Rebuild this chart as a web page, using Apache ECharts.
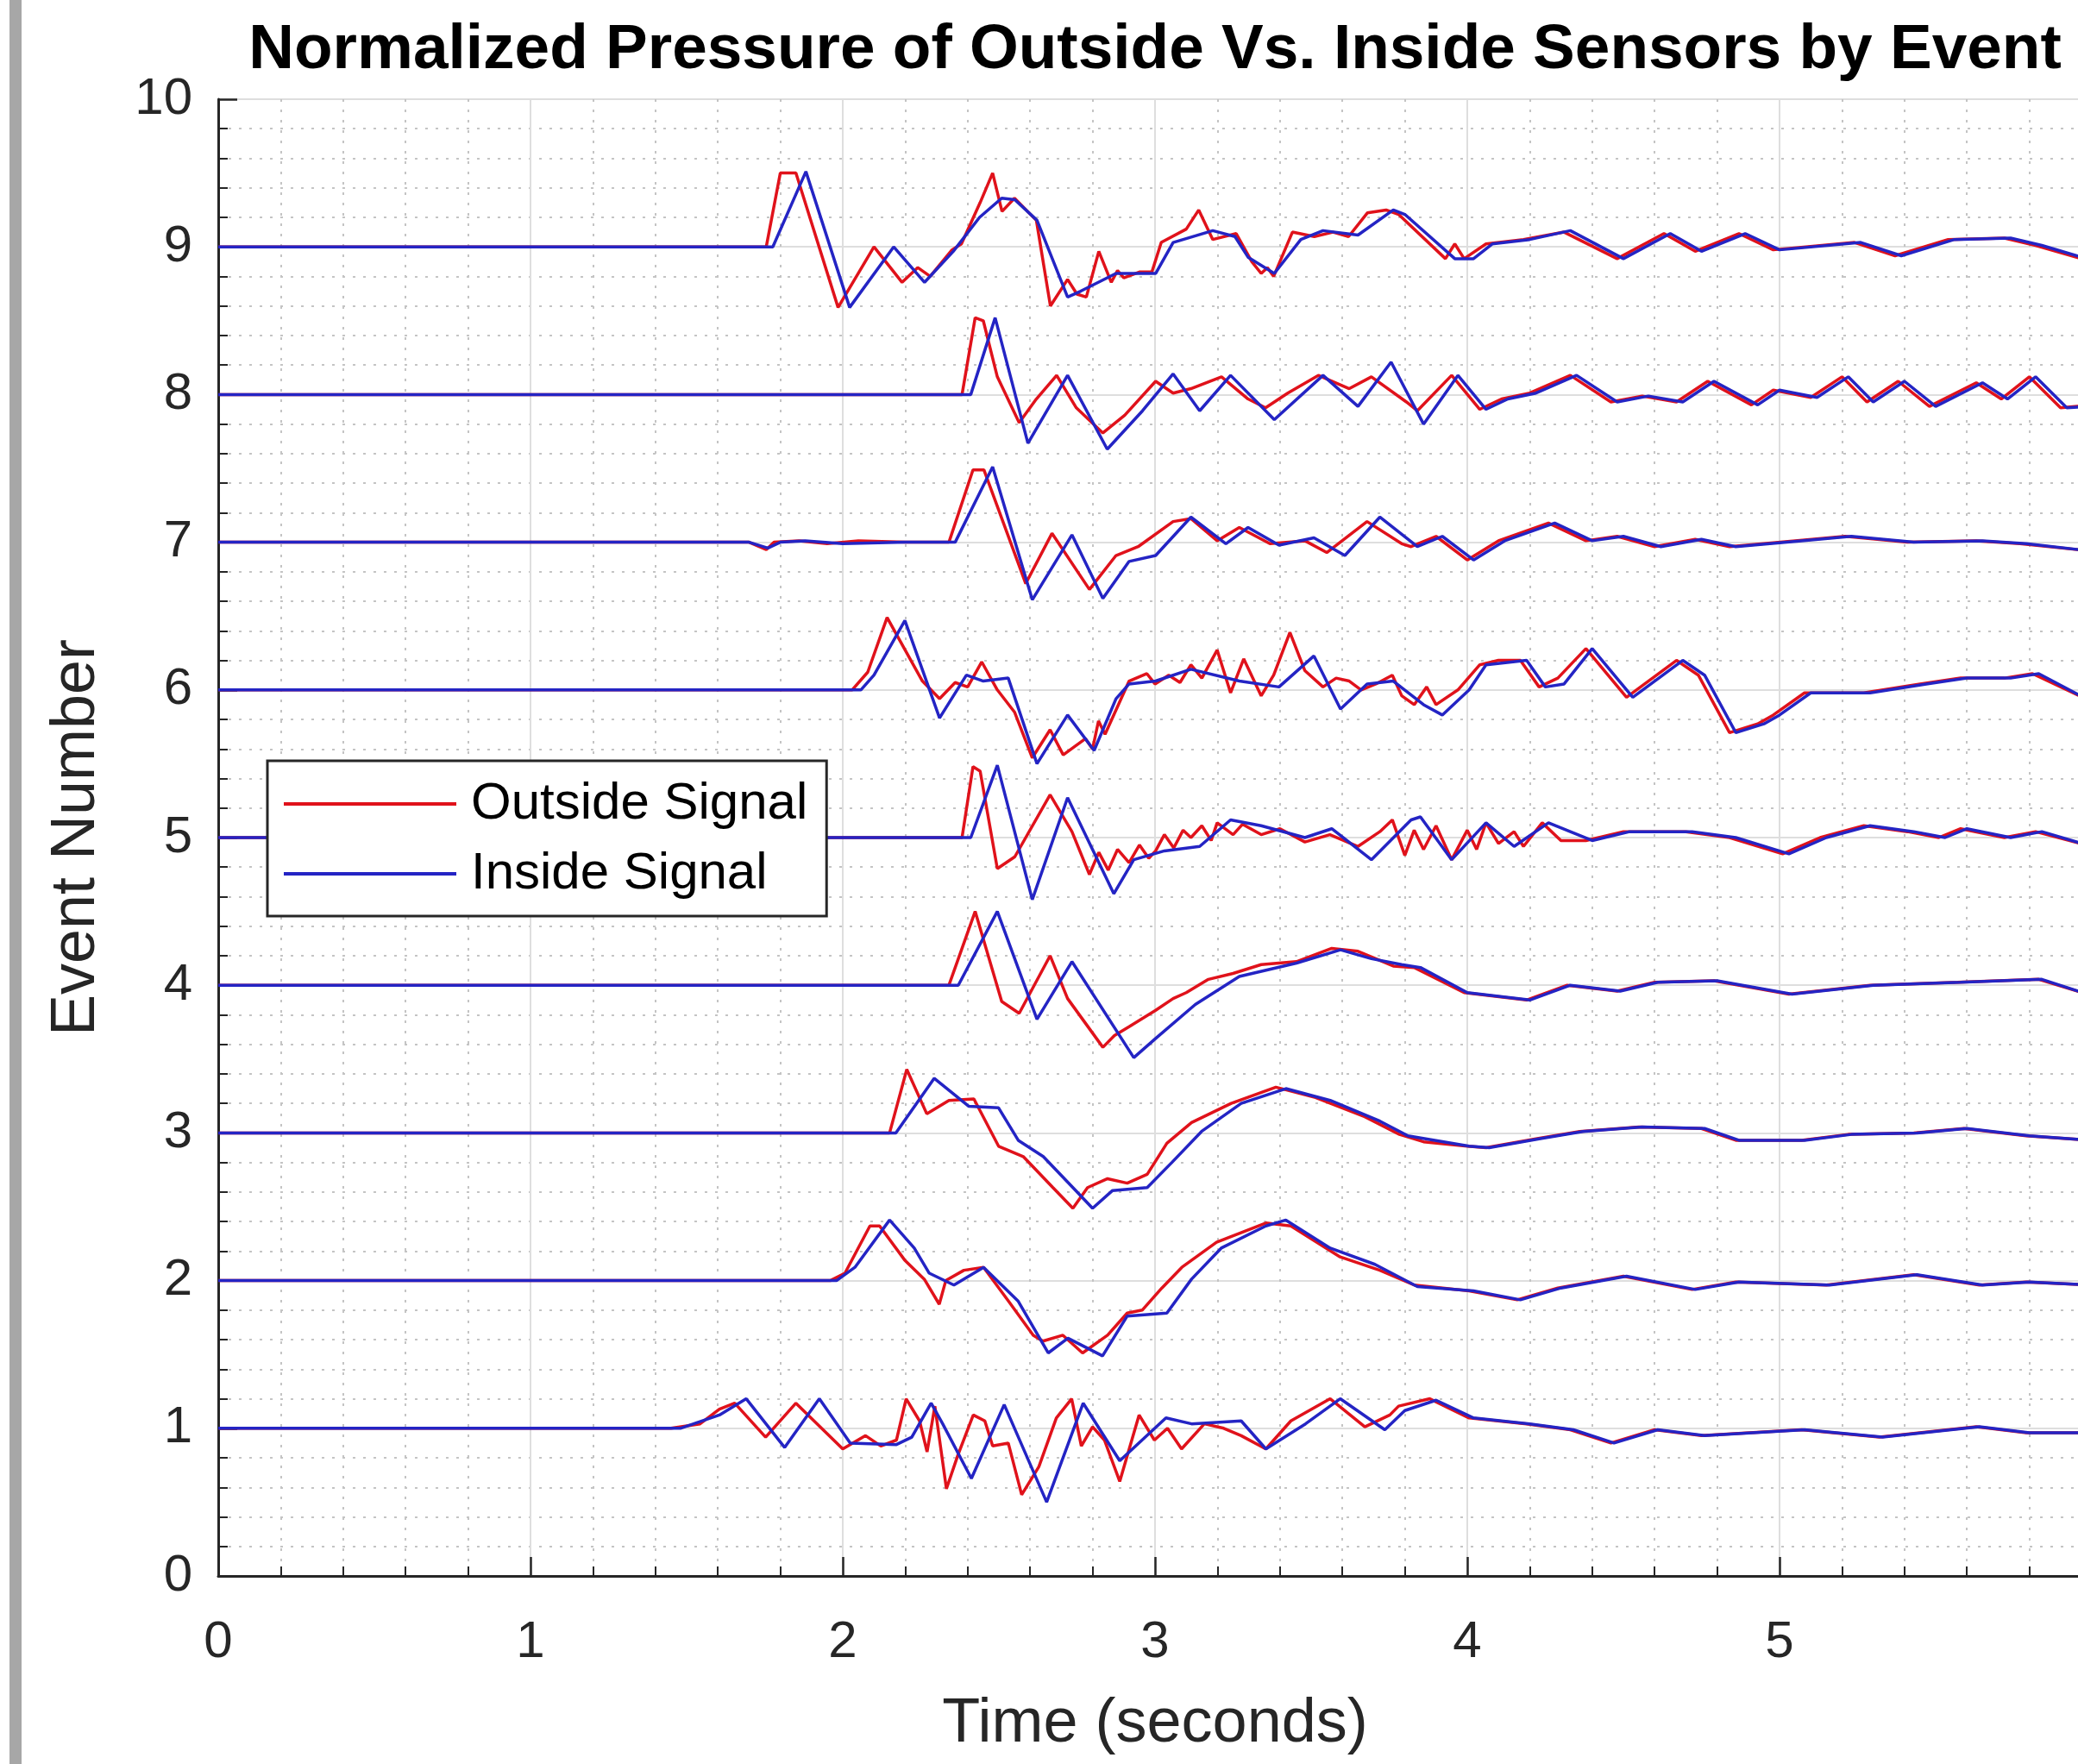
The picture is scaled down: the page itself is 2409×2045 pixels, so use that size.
<!DOCTYPE html>
<html>
<head>
<meta charset="utf-8">
<title>Normalized Pressure of Outside Vs. Inside Sensors by Event</title>
<script src="https://cdn.jsdelivr.net/npm/echarts@6.0.0/dist/echarts.min.js"></script>
<style>
  html, body { margin: 0; padding: 0; overflow: hidden; background: #fff; }
  /* the plot runs a little past the right edge of the window, as in the picture */
  #chart { width: 2678px; height: 2045px; }
</style>
</head>
<body>
<div id="chart"></div>
<script>
// [time (s), normalized pressure + event number]
const outside1 = [[0,1],[1.45,1],[1.543,1.03],[1.605,1.13],[1.654,1.17],[1.753,0.94],[1.85,1.17],[2.0,0.86],[2.073,0.95],[2.122,0.88],[2.172,0.92],[2.203,1.2],[2.246,1.05],[2.27,0.84],[2.295,1.15],[2.332,0.59],[2.369,0.82],[2.418,1.09],[2.455,1.05],[2.48,0.88],[2.53,0.9],[2.573,0.55],[2.628,0.74],[2.684,1.07],[2.733,1.2],[2.764,0.88],[2.8,1.01],[2.838,0.92],[2.887,0.64],[2.949,1.09],[2.998,0.92],[3.04,1.0],[3.085,0.86],[3.158,1.03],[3.22,1.0],[3.276,0.95],[3.355,0.86],[3.435,1.05],[3.561,1.2],[3.672,1.01],[3.752,1.09],[3.78,1.15],[3.88,1.2],[4.006,1.07],[4.19,1.03],[4.33,0.99],[4.46,0.9],[4.6,0.99],[4.75,0.95],[5.07,0.99],[5.32,0.94],[5.63,1.01],[5.79,0.97],[6,0.97]];
const inside1 = [[0,1],[1.48,1],[1.605,1.09],[1.691,1.2],[1.814,0.87],[1.925,1.2],[2.024,0.9],[2.172,0.89],[2.221,0.94],[2.283,1.17],[2.32,1.03],[2.412,0.66],[2.517,1.16],[2.653,0.5],[2.77,1.17],[2.887,0.78],[3.035,1.07],[3.117,1.03],[3.276,1.05],[3.355,0.86],[3.482,1.03],[3.593,1.2],[3.736,0.99],[3.8,1.12],[3.9,1.19],[4.02,1.07],[4.2,1.03],[4.34,0.99],[4.47,0.9],[4.61,0.99],[4.76,0.95],[5.08,0.99],[5.33,0.94],[5.64,1.01],[5.8,0.97],[6,0.97]];

const outside2 = [[0,2],[1.96,2],[2.007,2.05],[2.087,2.37],[2.118,2.37],[2.198,2.14],[2.261,2.01],[2.309,1.84],[2.33,2.0],[2.388,2.07],[2.451,2.09],[2.531,1.86],[2.61,1.63],[2.641,1.59],[2.705,1.63],[2.768,1.51],[2.848,1.63],[2.911,1.78],[2.959,1.8],[3.022,1.95],[3.086,2.09],[3.197,2.26],[3.355,2.39],[3.435,2.37],[3.593,2.16],[3.72,2.07],[3.83,1.97],[4.006,1.93],[4.16,1.87],[4.29,1.95],[4.5,2.03],[4.72,1.94],[4.86,1.99],[5.15,1.97],[5.43,2.04],[5.64,1.97],[5.79,1.99],[6,1.97]];
const inside2 = [[0,2],[1.98,2],[2.039,2.09],[2.15,2.41],[2.229,2.22],[2.277,2.05],[2.356,1.97],[2.451,2.09],[2.562,1.86],[2.658,1.51],[2.721,1.61],[2.832,1.49],[2.911,1.76],[3.038,1.78],[3.117,2.01],[3.212,2.22],[3.355,2.37],[3.419,2.41],[3.561,2.22],[3.704,2.11],[3.84,1.96],[4.02,1.93],[4.17,1.87],[4.3,1.95],[4.51,2.03],[4.73,1.94],[4.87,1.99],[5.16,1.97],[5.44,2.04],[5.65,1.97],[5.8,1.99],[6,1.97]];

const outside3 = [[0,3],[2.15,3],[2.205,3.43],[2.269,3.13],[2.34,3.22],[2.42,3.23],[2.499,2.91],[2.578,2.84],[2.673,2.63],[2.737,2.49],[2.784,2.63],[2.848,2.69],[2.911,2.66],[2.975,2.72],[3.038,2.93],[3.117,3.07],[3.244,3.2],[3.387,3.31],[3.514,3.24],[3.672,3.11],[3.783,2.99],[3.86,2.94],[4.0,2.91],[4.06,2.9],[4.22,2.96],[4.36,3.01],[4.55,3.04],[4.75,3.03],[4.86,2.95],[5.07,2.95],[5.22,2.99],[5.43,3.0],[5.59,3.03],[5.79,2.98],[6,2.95]];
const inside3 = [[0,3],[2.17,3],[2.293,3.37],[2.404,3.18],[2.499,3.17],[2.562,2.95],[2.642,2.84],[2.737,2.63],[2.8,2.49],[2.864,2.61],[2.975,2.63],[3.054,2.8],[3.149,3.01],[3.276,3.2],[3.419,3.3],[3.561,3.22],[3.72,3.08],[3.81,2.98],[4.006,2.91],[4.07,2.9],[4.23,2.96],[4.37,3.01],[4.56,3.04],[4.76,3.03],[4.87,2.95],[5.08,2.95],[5.23,2.99],[5.44,3.0],[5.6,3.03],[5.8,2.98],[6,2.95]];

const outside4 = [[0,4],[2.34,4],[2.424,4.5],[2.509,3.89],[2.565,3.81],[2.664,4.2],[2.72,3.91],[2.833,3.58],[2.87,3.66],[2.917,3.72],[3.002,3.83],[3.058,3.91],[3.1,3.95],[3.171,4.04],[3.25,4.08],[3.34,4.14],[3.453,4.16],[3.566,4.25],[3.65,4.23],[3.763,4.13],[3.83,4.12],[3.99,3.95],[4.19,3.9],[4.32,4.0],[4.48,3.96],[4.6,4.02],[4.79,4.03],[5.03,3.94],[5.29,4.0],[5.57,4.02],[5.83,4.04],[6,3.93]];
const inside4 = [[0,4],[2.37,4],[2.495,4.5],[2.622,3.77],[2.734,4.16],[2.932,3.51],[3.002,3.64],[3.129,3.87],[3.27,4.06],[3.453,4.15],[3.594,4.24],[3.693,4.18],[3.79,4.14],[3.85,4.12],[4.0,3.95],[4.2,3.9],[4.33,4.0],[4.49,3.96],[4.61,4.02],[4.8,4.03],[5.04,3.94],[5.3,4.0],[5.58,4.02],[5.84,4.04],[6,3.93]];

const outside5 = [[0,5],[2.382,5],[2.417,5.48],[2.44,5.45],[2.495,4.79],[2.551,4.87],[2.664,5.29],[2.734,5.04],[2.79,4.75],[2.82,4.9],[2.85,4.78],[2.88,4.92],[2.917,4.83],[2.95,4.95],[2.98,4.86],[3.002,4.91],[3.03,5.02],[3.06,4.93],[3.09,5.05],[3.115,5.0],[3.15,5.08],[3.18,4.98],[3.199,5.1],[3.25,5.02],[3.28,5.09],[3.34,5.02],[3.4,5.06],[3.48,4.97],[3.56,5.02],[3.65,4.94],[3.72,5.04],[3.76,5.12],[3.8,4.88],[3.83,5.05],[3.86,4.92],[3.9,5.08],[3.95,4.85],[4.0,5.05],[4.03,4.92],[4.06,5.1],[4.1,4.96],[4.15,5.04],[4.18,4.94],[4.24,5.1],[4.3,4.98],[4.38,4.98],[4.5,5.04],[4.7,5.04],[4.84,5.0],[5.01,4.89],[5.13,5.0],[5.27,5.08],[5.41,5.04],[5.51,5.0],[5.58,5.06],[5.72,5.0],[5.82,5.04],[6,4.94]];
const inside5 = [[0,5],[2.41,5],[2.495,5.49],[2.607,4.58],[2.72,5.27],[2.868,4.62],[2.932,4.85],[3.03,4.91],[3.143,4.94],[3.242,5.12],[3.34,5.08],[3.48,5.0],[3.566,5.06],[3.693,4.85],[3.82,5.12],[3.85,5.14],[3.95,4.85],[4.06,5.1],[4.15,4.94],[4.26,5.1],[4.4,4.98],[4.52,5.04],[4.72,5.04],[4.86,5.0],[5.03,4.89],[5.15,5.0],[5.29,5.08],[5.43,5.04],[5.53,5.0],[5.6,5.06],[5.74,5.0],[5.84,5.04],[6,4.94]];

const outside6 = [[0,6],[2.03,6],[2.08,6.12],[2.142,6.49],[2.255,6.06],[2.31,5.94],[2.36,6.05],[2.4,6.02],[2.445,6.19],[2.495,6.0],[2.55,5.85],[2.607,5.54],[2.664,5.73],[2.706,5.56],[2.777,5.67],[2.8,5.6],[2.819,5.79],[2.84,5.7],[2.917,6.06],[2.974,6.11],[3.0,6.04],[3.044,6.1],[3.08,6.05],[3.115,6.17],[3.15,6.08],[3.199,6.27],[3.242,5.98],[3.284,6.21],[3.34,5.96],[3.38,6.1],[3.432,6.39],[3.48,6.13],[3.538,6.02],[3.58,6.08],[3.622,6.06],[3.66,6.0],[3.707,6.04],[3.76,6.1],[3.79,5.96],[3.83,5.9],[3.87,6.02],[3.9,5.9],[3.97,6.0],[4.04,6.17],[4.1,6.2],[4.17,6.2],[4.23,6.02],[4.29,6.08],[4.38,6.28],[4.51,5.95],[4.67,6.2],[4.74,6.1],[4.84,5.71],[4.93,5.77],[4.98,5.83],[5.08,5.98],[5.27,5.98],[5.45,6.04],[5.58,6.08],[5.72,6.08],[5.81,6.11],[6,5.92]];
const inside6 = [[0,6],[2.058,6],[2.1,6.1],[2.199,6.47],[2.31,5.81],[2.396,6.1],[2.45,6.06],[2.53,6.08],[2.622,5.5],[2.72,5.83],[2.805,5.59],[2.875,5.94],[2.917,6.04],[3.002,6.06],[3.115,6.14],[3.27,6.06],[3.397,6.02],[3.509,6.23],[3.594,5.87],[3.679,6.04],[3.763,6.06],[3.86,5.9],[3.92,5.83],[4.006,6.0],[4.06,6.17],[4.19,6.2],[4.25,6.02],[4.31,6.04],[4.4,6.28],[4.53,5.95],[4.69,6.2],[4.76,6.1],[4.86,5.71],[4.95,5.77],[5.0,5.83],[5.1,5.98],[5.29,5.98],[5.47,6.04],[5.6,6.08],[5.74,6.08],[5.83,6.11],[6,5.92]];

const outside7 = [[0,7],[1.7,7],[1.755,6.95],[1.78,7.0],[1.86,7.01],[1.95,6.99],[2.05,7.01],[2.2,7.0],[2.34,7.0],[2.417,7.49],[2.452,7.49],[2.586,6.72],[2.67,7.06],[2.79,6.68],[2.875,6.91],[2.946,6.97],[3.058,7.14],[3.115,7.16],[3.199,7.01],[3.27,7.1],[3.368,6.99],[3.48,7.01],[3.55,6.93],[3.679,7.14],[3.79,6.99],[3.82,6.97],[3.9,7.04],[4.0,6.88],[4.1,7.01],[4.26,7.13],[4.38,7.01],[4.48,7.04],[4.6,6.97],[4.73,7.02],[4.84,6.97],[5.05,7.01],[5.21,7.04],[5.41,7.0],[5.63,7.01],[5.77,6.99],[6,6.94]];
const inside7 = [[0,7],[1.7,7],[1.76,6.96],[1.8,7.0],[1.88,7.01],[2.0,6.99],[2.2,7.0],[2.36,7.0],[2.48,7.51],[2.607,6.61],[2.734,7.05],[2.833,6.62],[2.917,6.87],[3.002,6.91],[3.115,7.17],[3.227,6.99],[3.298,7.1],[3.397,6.98],[3.509,7.03],[3.608,6.91],[3.72,7.17],[3.84,6.97],[3.92,7.04],[4.02,6.88],[4.12,7.01],[4.28,7.13],[4.4,7.01],[4.5,7.04],[4.62,6.97],[4.75,7.02],[4.86,6.97],[5.07,7.01],[5.23,7.04],[5.43,7.0],[5.65,7.01],[5.79,6.99],[6,6.94]];

const outside8 = [[0,8],[2.382,8],[2.424,8.52],[2.45,8.5],[2.495,8.12],[2.565,7.81],[2.62,7.97],[2.685,8.13],[2.748,7.91],[2.833,7.74],[2.903,7.86],[3.002,8.09],[3.058,8.01],[3.115,8.04],[3.213,8.12],[3.298,7.97],[3.354,7.91],[3.425,8.01],[3.523,8.13],[3.622,8.04],[3.693,8.12],[3.805,7.95],[3.84,7.89],[3.95,8.13],[4.04,7.9],[4.11,7.97],[4.2,8.01],[4.33,8.13],[4.46,7.95],[4.56,7.99],[4.67,7.95],[4.77,8.09],[4.91,7.93],[4.98,8.03],[5.1,7.98],[5.2,8.12],[5.28,7.95],[5.38,8.09],[5.48,7.92],[5.63,8.08],[5.71,7.97],[5.8,8.12],[5.9,7.91],[6,7.93]];
const inside8 = [[0,8],[2.41,8],[2.488,8.52],[2.593,7.67],[2.72,8.13],[2.847,7.63],[2.96,7.89],[3.058,8.14],[3.143,7.89],[3.242,8.13],[3.382,7.83],[3.538,8.13],[3.65,7.92],[3.756,8.22],[3.86,7.8],[3.97,8.13],[4.06,7.9],[4.13,7.97],[4.22,8.01],[4.35,8.13],[4.48,7.95],[4.58,7.99],[4.69,7.95],[4.79,8.09],[4.93,7.93],[5.0,8.03],[5.12,7.98],[5.22,8.12],[5.3,7.95],[5.4,8.09],[5.5,7.92],[5.65,8.08],[5.73,7.97],[5.82,8.12],[5.92,7.91],[6,7.92]];

const outside9 = [[0,9],[1.755,9],[1.8,9.5],[1.85,9.5],[1.985,8.59],[2.1,9.0],[2.19,8.76],[2.24,8.86],[2.28,8.8],[2.35,8.98],[2.38,9.02],[2.44,9.3],[2.48,9.5],[2.51,9.24],[2.55,9.33],[2.62,9.18],[2.665,8.6],[2.72,8.78],[2.75,8.68],[2.78,8.66],[2.82,8.97],[2.86,8.76],[2.88,8.84],[2.9,8.79],[2.95,8.83],[2.99,8.83],[3.02,9.03],[3.1,9.12],[3.14,9.25],[3.185,9.05],[3.26,9.09],[3.31,8.9],[3.34,8.82],[3.36,8.86],[3.38,8.8],[3.44,9.1],[3.51,9.07],[3.57,9.1],[3.62,9.07],[3.68,9.23],[3.74,9.25],[3.78,9.22],[3.93,8.92],[3.96,9.02],[3.99,8.92],[4.06,9.02],[4.18,9.05],[4.31,9.1],[4.48,8.92],[4.63,9.09],[4.73,8.97],[4.87,9.09],[4.98,8.98],[5.24,9.03],[5.37,8.94],[5.54,9.05],[5.72,9.06],[5.82,9.01],[6,8.9]];
const inside9 = [[0,9],[1.776,9],[1.882,9.51],[2.022,8.59],[2.163,9.0],[2.262,8.76],[2.354,8.97],[2.438,9.2],[2.509,9.33],[2.551,9.32],[2.622,9.18],[2.72,8.66],[2.762,8.7],[2.875,8.82],[3.002,8.82],[3.058,9.03],[3.185,9.11],[3.256,9.07],[3.298,8.93],[3.382,8.82],[3.467,9.05],[3.538,9.11],[3.65,9.08],[3.763,9.25],[3.8,9.22],[3.96,8.92],[4.02,8.92],[4.08,9.02],[4.2,9.05],[4.33,9.11],[4.5,8.92],[4.65,9.09],[4.75,8.97],[4.89,9.09],[5.0,8.98],[5.26,9.03],[5.39,8.94],[5.56,9.05],[5.74,9.06],[5.84,9.01],[6,8.91]];

const outsideSignals = [outside1, outside2, outside3, outside4, outside5, outside6, outside7, outside8, outside9];
const insideSignals = [inside1, inside2, inside3, inside4, inside5, inside6, inside7, inside8, inside9];

const RED = '#e0121b';
const BLUE = '#2424c4';
const INK = '#262626';
const FONT = '"Liberation Sans", Arial, Helvetica, sans-serif';

function lineSeries(name, color, data) {
    return {
        name: name,
        type: 'line',
        data: data,
        symbol: 'none',
        showSymbol: false,
        silent: true,
        lineStyle: { color: color, width: 3.5 },
        itemStyle: { color: color }
    };
}

// red first, blue drawn over it
const series = outsideSignals.map(d => lineSeries('Outside Signal', RED, d))
    .concat(insideSignals.map(d => lineSeries('Inside Signal', BLUE, d)));

const axisCommon = {
    type: 'value',
    interval: 1,
    nameLocation: 'middle',
    nameTextStyle: { fontSize: 72, color: INK, fontFamily: FONT },
    axisLine: { show: true, lineStyle: { color: INK, width: 3 } },
    axisTick: { show: true, inside: true, length: 22, lineStyle: { color: INK, width: 2.5 } },
    minorTick: { show: true, splitNumber: 5, length: 11, lineStyle: { color: INK, width: 2 } },
    axisLabel: { fontSize: 60, color: INK, fontFamily: FONT },
    splitLine: { show: true, lineStyle: { color: '#dedede', width: 2 } },
    minorSplitLine: { show: true, lineStyle: { color: '#c4c4c4', width: 2, type: [3, 9] } }
};

const chart = echarts.init(document.getElementById('chart'), null, { renderer: 'canvas' });

chart.setOption({
    animation: false,
    backgroundColor: '#fff',
    title: {
        text: 'Normalized Pressure of Outside Vs. Inside Sensors by Event',
        left: 'center',
        top: 17,
        textStyle: { fontSize: 73, fontWeight: 'bold', color: '#000', fontFamily: FONT }
    },
    grid: { left: 253, right: 253, top: 115, bottom: 218 },
    legend: {
        data: [
            { name: 'Outside Signal', icon: 'rect' },
            { name: 'Inside Signal', icon: 'rect' }
        ],
        orient: 'vertical',
        left: 310,
        top: 882,
        itemWidth: 200,
        itemHeight: 4,
        itemGap: 21,
        padding: [20, 22, 19, 19],
        backgroundColor: '#fff',
        borderColor: INK,
        borderWidth: 3,
        borderRadius: 0,
        selectedMode: false,
        textStyle: { fontSize: 60, color: '#000', fontFamily: FONT, lineHeight: 60, padding: [0, 0, 0, 12] }
    },
    xAxis: Object.assign({}, axisCommon, {
        min: 0,
        max: 6,
        name: 'Time (seconds)',
        nameGap: 136,
        axisLabel: Object.assign({}, axisCommon.axisLabel, { margin: 47 })
    }),
    yAxis: Object.assign({}, axisCommon, {
        min: 0,
        max: 10,
        name: 'Event Number',
        nameGap: 128,
        axisLabel: Object.assign({}, axisCommon.axisLabel, { margin: 30 })
    }),
    graphic: [
        // grey strip down the left edge of the figure
        { type: 'rect', left: 11, top: 0, shape: { width: 14, height: 2045 }, style: { fill: '#a7a7a7' }, silent: true }
    ],
    series: series
});
</script>
</body>
</html>
